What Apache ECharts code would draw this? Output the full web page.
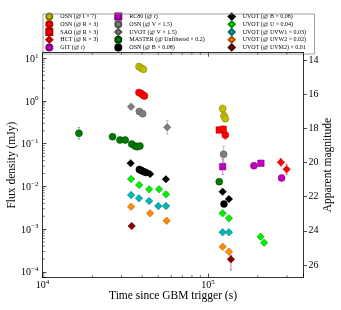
<!DOCTYPE html>
<html><head><meta charset="utf-8">
<script src="https://cdn.jsdelivr.net/npm/echarts@6/dist/echarts.min.js"></script>
<style>html,body{margin:0;padding:0;background:#fff;}#c{width:341px;height:310px;}</style>
</head><body><div id="c"></div>
<script>
// ---------- data (time since trigger in s, flux density in mJy) ----------
const osnI_t = [38300, 39400, 40700, 122700, 125000, 127300];
const osnI_f = [6.4, 5.9, 5.5, 0.66, 0.45, 0.385];
const osnR_t = [38300, 39400, 40500, 41300, 127300];
const osnR_f = [1.58, 1.50, 1.38, 1.31, 0.16];
const saoR_t = [117000, 123600];
const saoR_f = [0.209, 0.217];
const hctR_t = [276000, 299000];
const hctR_f = [0.0366, 0.0251];
const git_t = [189600, 278600];
const git_f = [0.0305, 0.0157];
const rc80_t = [122700, 209000];
const rc80_f = [0.0289, 0.0348];
const osnV_t = [38500, 40300, 124400];
const osnV_f = [0.567, 0.505, 0.0565];
const uvotV_t = [34300, 56700];
const uvotV_f = [0.736, 0.242];
const master_t = [16600, 26500, 29400, 31600, 34600, 36200, 37400, 38800, 117000];
const master_f = [0.175, 0.146, 0.122, 0.122, 0.0984, 0.0883, 0.085, 0.0883, 0.0129];
const osnB_t = [38500, 39600, 40700, 42200, 125000];
const osnB_f = [0.0249, 0.0236, 0.0223, 0.0212, 0.00387];
const uvotB_t = [34100, 44700, 55700, 122700, 133900];
const uvotB_f = [0.0348, 0.0195, 0.0147, 0.00752, 0.00507];
const uvotU_t = [34300, 38400, 44100, 50600, 55800, 122700, 133900, 208000, 218600];
const uvotU_f = [0.0149, 0.0108, 0.00855, 0.00855, 0.00653, 0.00234, 0.00179, 0.000664, 0.000481];
const uvw1_t = [34300, 38300, 44100, 50100, 55800, 122700, 133900];
const uvw1_f = [0.00629, 0.00526, 0.00455, 0.00347, 0.00347, 0.000841, 0.000841];
const uvw2_t = [34300, 44700, 56300, 122700, 133900];
const uvw2_f = [0.00335, 0.00234, 0.00157, 0.000387, 0.000296];
const uvm2_t = [34600, 137700];
const uvm2_f = [0.00118, 0.000196];

// error bars: [time, lower flux, upper flux]
const osnI_err = [[122700, 0.537, 0.81]];
const osnR_err = [[127300, 0.127, 0.2]];
const saoR_err = [[123600, 0.181, 0.26]];
const hctR_err = [[276000, 0.0298, 0.045], [299000, 0.019, 0.0331]];
const rc80_err = [[122700, 0.0191, 0.0437]];
const osnV_err = [[124400, 0.0365, 0.0875]];
const uvotV_err = [[56700, 0.169, 0.346]];
const master_err = [[16600, 0.128, 0.24]];
const uvm2_err = [[137700, 0.00011, 0.000247]];

// tick labels
const xMajor = [1e4, 1e5];
const xMinor = [2e4, 3e4, 4e4, 5e4, 6e4, 7e4, 8e4, 9e4, 2e5, 3e5];
const yMajor = [1e-4, 1e-3, 1e-2, 1e-1, 1, 10];
const yDecades = [1e-5, 1e-4, 1e-3, 1e-2, 1e-1, 1, 10];
const yMantissa = [2, 3, 4, 5, 6, 7, 8, 9];
const magTicks = [14, 16, 18, 20, 22, 24, 26];

// ---------- layout / style ----------
const FONT = 'Liberation Serif';
const X_MIN = 1e4, X_MAX = 3.78e5, Y_MIN = 7.36e-5, Y_MAX = 13.5;
const ZP = 16.4; // AB magnitude of 1 mJy
const magTop = ZP - 2.5 * Math.log10(Y_MAX);
const magBottom = ZP - 2.5 * Math.log10(Y_MIN);

const defs = [
  {name: 'OSN (@ I × 7)', t: osnI_t, f: osnI_f, err: osnI_err, color: '#bfbf00', edge: '#7a7a00', symbol: 'circle', size: 7},
  {name: 'OSN (@ R × 3)', t: osnR_t, f: osnR_f, err: osnR_err, color: '#ff0000', edge: '#b00000', symbol: 'circle', size: 7},
  {name: 'SAO (@ R × 3)', t: saoR_t, f: saoR_f, err: saoR_err, color: '#ff0000', edge: '#b00000', symbol: 'rect', size: 6.5},
  {name: 'HCT (@ R × 3)', t: hctR_t, f: hctR_f, err: hctR_err, color: '#ff0000', edge: '#b00000', symbol: 'diamond', size: 7.5},
  {name: 'GIT (@ r)', t: git_t, f: git_f, err: [], color: '#bf00bf', edge: '#800080', symbol: 'circle', size: 7},
  {name: 'RC80 (@ r)', t: rc80_t, f: rc80_f, err: rc80_err, color: '#bf00bf', edge: '#800080', symbol: 'rect', size: 6.5},
  {name: 'OSN (@ V × 1.5)', t: osnV_t, f: osnV_f, err: osnV_err, color: '#7f7f7f', edge: '#505050', symbol: 'circle', size: 7},
  {name: 'UVOT (@ V × 1.5)', t: uvotV_t, f: uvotV_f, err: uvotV_err, color: '#7f7f7f', edge: '#505050', symbol: 'diamond', size: 7.5},
  {name: 'MASTER (@ Unfiltered × 0.2)', t: master_t, f: master_f, err: master_err, color: '#007a00', edge: '#004000', symbol: 'circle', size: 7},
  {name: 'OSN (@ B × 0.08)', t: osnB_t, f: osnB_f, err: [], color: '#000000', edge: '#000000', symbol: 'circle', size: 7},
  {name: 'UVOT (@ B × 0.08)', t: uvotB_t, f: uvotB_f, err: [], color: '#000000', edge: '#000000', symbol: 'diamond', size: 7.5},
  {name: 'UVOT (@ U × 0.04)', t: uvotU_t, f: uvotU_f, err: [], color: '#00ee00', edge: '#009000', symbol: 'diamond', size: 7.5},
  {name: 'UVOT (@ UVW1 × 0.03)', t: uvw1_t, f: uvw1_f, err: [], color: '#00b5b5', edge: '#006a6a', symbol: 'diamond', size: 7.5},
  {name: 'UVOT (@ UVW2 × 0.02)', t: uvw2_t, f: uvw2_f, err: [], color: '#ff8c00', edge: '#a05000', symbol: 'diamond', size: 7.5},
  {name: 'UVOT (@ UVM2) × 0.01', t: uvm2_t, f: uvm2_f, err: uvm2_err, color: '#8b0000', edge: '#4a0000', symbol: 'diamond', size: 7.5}
];

function hexA(hex, a) {
  const n = parseInt(hex.slice(1), 16);
  return 'rgba(' + (n >> 16 & 255) + ',' + (n >> 8 & 255) + ',' + (n & 255) + ',' + a + ')';
}

const series = [];
defs.forEach((d, i) => {
  if (d.err.length) {
    series.push({
      type: 'custom', name: 'err' + i, xAxisIndex: 0, yAxisIndex: 0, z: 2, silent: true,
      data: d.err.map(e => [e[0], e[1], e[2]]),
      renderItem: function (params, api) {
        const lo = api.coord([api.value(0), api.value(1)]);
        const hi = api.coord([api.value(0), api.value(2)]);
        const st = {stroke: hexA(d.color, 0.55), lineWidth: 0.9};
        return {type: 'group', children: [
          {type: 'line', shape: {x1: lo[0], y1: lo[1], x2: hi[0], y2: hi[1]}, style: st},
          {type: 'line', shape: {x1: lo[0] - 1.3, y1: lo[1], x2: lo[0] + 1.3, y2: lo[1]}, style: st},
          {type: 'line', shape: {x1: hi[0] - 1.3, y1: hi[1], x2: hi[0] + 1.3, y2: hi[1]}, style: st}
        ]};
      }
    });
  }
  series.push({
    type: 'scatter', name: d.name, xAxisIndex: 0, yAxisIndex: 0, z: 3 + i * 0.01,
    symbol: d.symbol, symbolSize: d.size,
    itemStyle: {color: d.color, borderColor: d.edge, borderWidth: 0.5, opacity: 1},
    emphasis: {disabled: true},
    data: d.t.map((t, k) => [t, d.f[k]])
  });
});

// minor ticks drawn through the axes' own coordinate system
const tickData = [];
xMinor.forEach(v => tickData.push([v, Y_MIN, 0]));
yDecades.forEach(dec => yMantissa.forEach(m => {
  const v = dec * m;
  if (v > Y_MIN && v < Y_MAX) tickData.push([X_MIN, v, 1]);
}));
series.push({
  type: 'custom', name: 'minorTicks', xAxisIndex: 0, yAxisIndex: 0, z: 10, silent: true,
  data: tickData,
  renderItem: function (params, api) {
    const st = {stroke: '#000', lineWidth: 0.6};
    if (api.value(2) === 0) {
      const pb = api.coord([api.value(0), Y_MIN]);
      const pt = api.coord([api.value(0), Y_MAX]);
      return {type: 'group', children: [
        {type: 'line', shape: {x1: pb[0], y1: pb[1], x2: pb[0], y2: pb[1] - 2.2}, style: st},
        {type: 'line', shape: {x1: pt[0], y1: pt[1], x2: pt[0], y2: pt[1] + 2.2}, style: st}
      ]};
    }
    const p = api.coord([X_MIN, api.value(1)]);
    return {type: 'line', shape: {x1: p[0], y1: p[1], x2: p[0] + 2.2, y2: p[1]}, style: st};
  }
});

function isMajor(v, list) { return list.some(m => Math.abs(Math.log10(v) - Math.log10(m)) < 0.01); }
function powLabel(v, list) {
  if (!isMajor(v, list)) return '';
  const e = Math.round(Math.log10(v));
  return '{b|10}{s|' + String(e).replace('-', '\u2212') + '}';
}
const richPow = {
  b: {fontFamily: FONT, fontSize: 10, color: '#000', lineHeight: 12, verticalAlign: 'bottom'},
  s: {fontFamily: FONT, fontSize: 7, color: '#000', lineHeight: 9, verticalAlign: 'top'}
};
const axisLineStyle = {show: true, lineStyle: {color: '#000', width: 0.8}};

const legendCols = [45.3, 114.3, 227.7];
const legend = legendCols.map((lx, c) => ({
  data: defs.slice(c * 5, c * 5 + 5).map(d => d.name),
  orient: 'vertical', left: lx, top: 12.6, padding: 0,
  itemWidth: 6, itemHeight: 6, itemGap: -0.3,
  selectedMode: false,
  textStyle: {fontFamily: FONT, fontSize: 6, color: '#000', lineHeight: 6, padding: [0, 0, 0, 3]}
}));

const nameStyle = {fontFamily: FONT, fontSize: 11.5, color: '#000'};

const option = {
  animation: false,
  backgroundColor: '#fff',
  grid: {left: 42.5, right: 37.5, top: 52.7, bottom: 32.5, containLabel: false, outerBoundsMode: 'none'},
  legend: legend,
  graphic: [{
    type: 'rect', left: 40.5, top: 11.5, silent: true, z: 100,
    shape: {width: 271.5, height: 40}, style: {fill: 'none', stroke: '#888', lineWidth: 0.8}
  }],
  xAxis: [
    {
      type: 'log', logBase: 10, min: X_MIN, max: X_MAX, position: 'bottom',
      axisLine: axisLineStyle, splitLine: {show: false},
      axisTick: {show: true, inside: true, length: 4, lineStyle: {color: '#000', width: 0.7}},
      axisLabel: {show: true, margin: 1, formatter: v => powLabel(v, xMajor), rich: richPow, showMinLabel: true, showMaxLabel: true},
      name: 'Time since GBM trigger (s)', nameLocation: 'middle', nameGap: 12, nameMoveOverlap: false,
      nameTextStyle: nameStyle
    },
    {
      type: 'log', logBase: 10, min: X_MIN, max: X_MAX, position: 'top',
      axisLine: axisLineStyle, splitLine: {show: false},
      axisTick: {show: true, inside: true, length: 4, lineStyle: {color: '#000', width: 0.7}},
      axisLabel: {show: false}
    }
  ],
  yAxis: [
    {
      type: 'log', logBase: 10, min: Y_MIN, max: Y_MAX, position: 'left',
      axisLine: axisLineStyle, splitLine: {show: false},
      axisTick: {show: true, inside: true, length: 4, lineStyle: {color: '#000', width: 0.7}},
      axisLabel: {show: true, margin: 4, formatter: v => powLabel(v, yMajor), rich: richPow},
      name: 'Flux density (mJy)', nameLocation: 'middle', nameGap: 24.5, nameRotate: 90, nameMoveOverlap: false,
      nameTextStyle: nameStyle
    },
    {
      type: 'value', inverse: true, min: magTop, max: magBottom, position: 'right',
      axisLine: axisLineStyle, splitLine: {show: false},
      axisTick: {show: true, inside: false, length: 3.5, customValues: magTicks, lineStyle: {color: '#000', width: 0.7}},
      axisLabel: {show: true, margin: 5, customValues: magTicks, fontFamily: FONT, fontSize: 10, color: '#000'},
      name: 'Apparent magnitude', nameLocation: 'middle', nameGap: 18, nameRotate: 90, nameMoveOverlap: false,
      nameTextStyle: nameStyle
    }
  ],
  series: series
};

const chart = echarts.init(document.getElementById('c'), null, {renderer: 'canvas', width: 341, height: 310});
chart.setOption(option);
</script>
</body></html>
